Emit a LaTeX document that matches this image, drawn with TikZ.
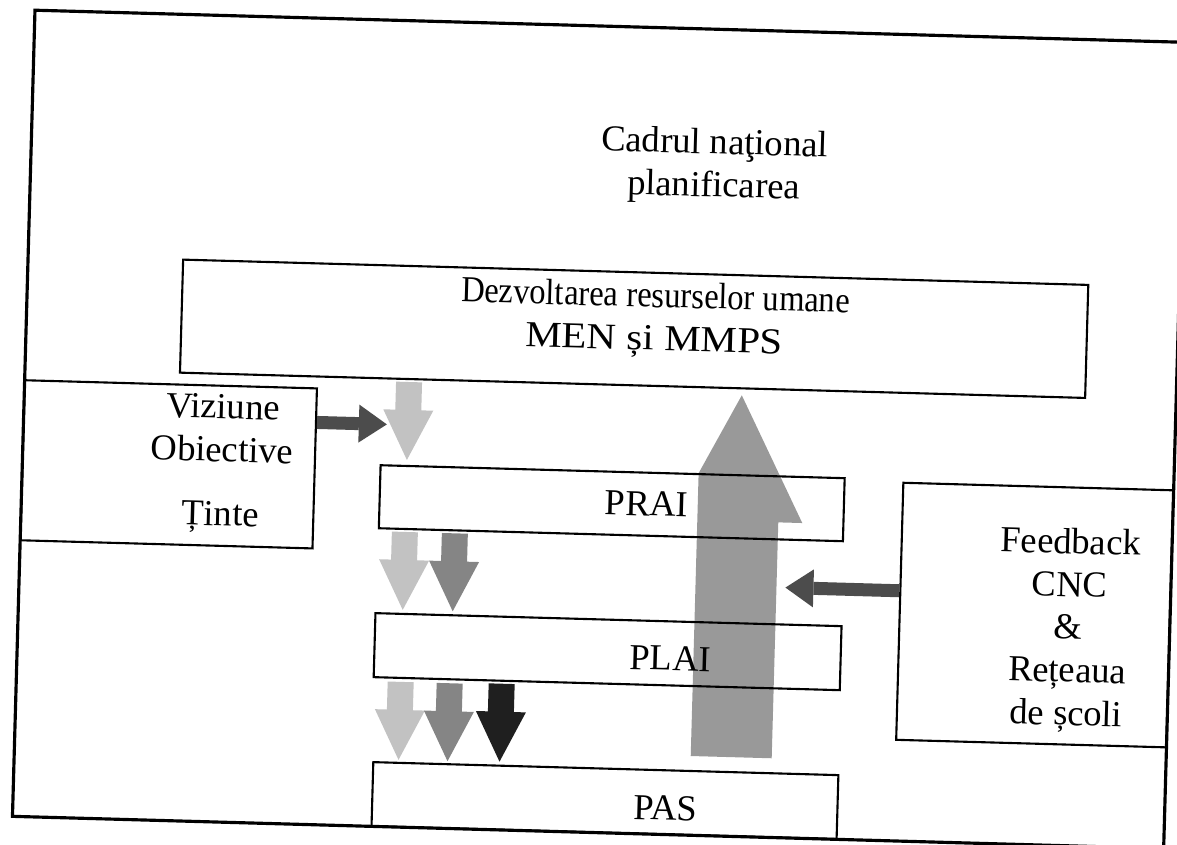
\documentclass[tikz,border=0pt]{standalone}
\usepackage{graphicx}
\usepackage{fontspec}
\setmainfont{Liberation Serif}
\usetikzlibrary{arrows.meta}

\definecolor{grilight}{gray}{0.76}
\definecolor{grimid}{gray}{0.52}
\definecolor{gridark}{gray}{0.12}
\definecolor{gribig}{gray}{0.6}
\definecolor{grihoriz}{gray}{0.3}

% block arrow pointing down: x, top y, colour
\newcommand{\blockdown}[3]{%
  \fill[#3] (#1-13,#2) -- (#1+13,#2) -- (#1+13,#2+28) -- (#1+25,#2+28)
    -- (#1,#2+78) -- (#1-25,#2+28) -- (#1-13,#2+28) -- cycle;}

\begin{document}
\begin{tikzpicture}[x=0.01cm, y=-0.01cm,
    box/.style={draw, line width=0.6pt, inner sep=0pt},
    lbl/.style={font=\fontsize{10.4}{12.2}\selectfont, align=center, inner sep=0pt},
    hconn/.style={grihoriz, line width=0.13cm,
      -{Triangle[length=0.28cm, width=0.38cm, line width=0pt]}}]
  \useasboundingbox (0,0) rectangle (1177,844);
  \clip (0,0) rectangle (1177,844);
  \begin{scope}[rotate around={-1.6:(588,422)}, transform shape]
    % big arrow, under the boxes
    \fill[gribig] (741,391) -- (805,517) -- (781,517) -- (781,753)
      -- (700,753) -- (700,470) -- cycle;

    \node[box, line width=0.9pt, minimum width=11.51cm, minimum height=8.06cm]
      (cadru) at (599.5,429) {};
    \node[lbl] (titlu) at (707,163) {Cadrul naţional\\planificarea};

    \node[box, minimum width=9.05cm, minimum height=1.13cm] (dezv) at (631.5,327.5) {};
    \node[lbl] (dezvtext) at (652,318)
      {\scalebox{0.89}[1]{Dezvoltarea resurselor umane}\\\scalebox{1.12}[1]{MEN și MMPS}};

    \node[box, minimum width=2.92cm, minimum height=1.60cm] (viz) at (170,476) {};
    \node[lbl] (viztext) at (223,474) {Viziune\\Obiective\\[6pt]Ținte};

    \node[box, minimum width=4.64cm, minimum height=0.63cm] (prai) at (614,502.5) {};
    \node[lbl] (praitext) at (649,502) {PRAI};
    \node[box, minimum width=4.66cm, minimum height=0.64cm] (plai) at (614,651) {};
    \node[lbl] (plaitext) at (677,656) {PLAI};
    \node[box, minimum width=4.65cm, minimum height=0.64cm] (pas) at (615.5,800) {};
    \node[lbl] (pastext) at (676,806) {PAS};

    \node[box, minimum width=2.70cm, minimum height=2.57cm] (feedback) at (1040,602.5) {};
    \node[lbl] (fbtext) at (1074,617) {Feedback\\CNC\\\&\\Rețeaua\\de școli};

    % down arrows between the levels
    \foreach \ax/\ay/\ac in {408/387/grilight, 408/537/grilight, 458/537/grimid,
        408/687/grilight, 457/687/grimid, 509/686/gridark}
      {\blockdown{\ax}{\ay}{\ac}}

    \coordinate (vizend) at (387,430);
    \draw[hconn] (viz.east |- vizend) -- (vizend);
    \coordinate (fbend) at (790,582);
    \draw[hconn] (feedback.west |- fbend) -- (fbend);
  \end{scope}
\end{tikzpicture}
\end{document}
